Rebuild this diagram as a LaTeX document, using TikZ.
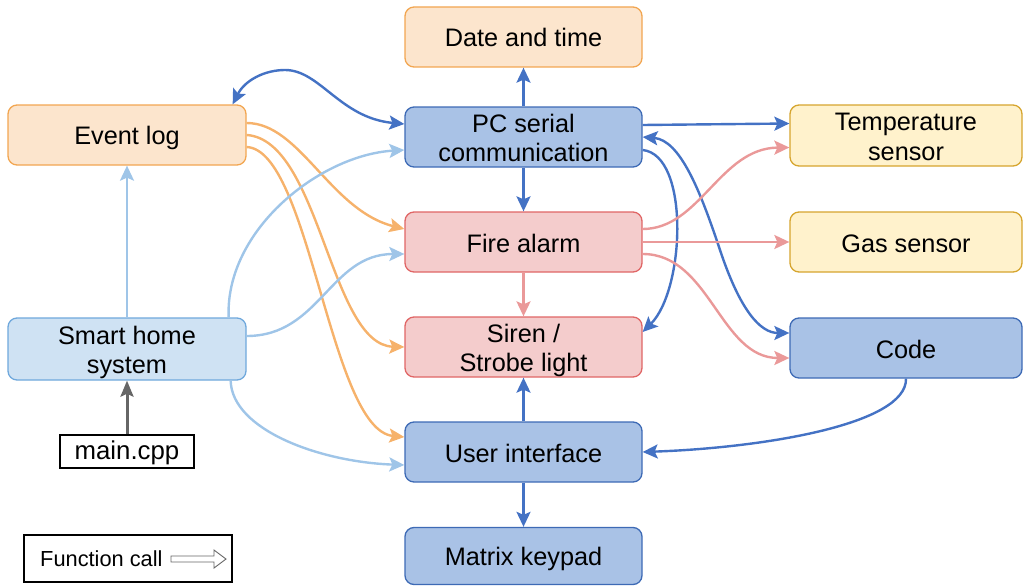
\documentclass[tikz,border=0pt]{standalone}
\usepackage{fontspec}
\setmainfont{Liberation Sans}
\usetikzlibrary{arrows.meta,calc}
\definecolor{orfill}{HTML}{FCE5CD}
\definecolor{ordraw}{HTML}{F2A651}
\definecolor{orline}{HTML}{F6B26B}
\definecolor{dbfill}{HTML}{A9C2E6}
\definecolor{dbdraw}{HTML}{3D6AB5}
\definecolor{dbline}{HTML}{4472C4}
\definecolor{rdfill}{HTML}{F4CCCC}
\definecolor{rddraw}{HTML}{E06666}
\definecolor{rdline}{HTML}{EA9999}
\definecolor{lbfill}{HTML}{CFE2F3}
\definecolor{lbdraw}{HTML}{6FA8DC}
\definecolor{lbline}{HTML}{9FC5E8}
\definecolor{ylfill}{HTML}{FFF2CC}
\definecolor{yldraw}{HTML}{D6A52E}
\definecolor{gyline}{HTML}{666666}
\newcommand\boxfont{\fontsize{25.3}{29.5}\selectfont}
\newcommand\tstrut{\rule[-4pt]{0pt}{28pt}}
\newcommand\twolines[2]{\raisebox{-4pt}[\height][\depth]{\begin{tabular}{@{}c@{}}#1\\#2\end{tabular}}}
\tikzset{
  box/.style={draw, rounded corners=9pt, line width=1.3pt, minimum width=237pt,
    minimum height=60pt, align=center, font=\boxfont, inner sep=0pt},
  one/.style={execute at begin node=\tstrut},
  orbox/.style={box, fill=orfill, draw=ordraw},
  dbbox/.style={box, fill=dbfill, draw=dbdraw},
  rdbox/.style={box, fill=rdfill, draw=rddraw},
  lbbox/.style={box, fill=lbfill, draw=lbdraw},
  ylbox/.style={box, fill=ylfill, draw=yldraw, minimum width=232pt},
  conn/.style={line width=2.4pt, ->},
  orconn/.style={conn, draw=orline},
  dbconn/.style={conn, draw=dbline},
  rdconn/.style={conn, draw=rdline},
  lbconn/.style={conn, draw=lbline},
}
\begin{document}
\begin{tikzpicture}[x=1pt, y=-1pt, >={Stealth[length=15pt,width=14pt,inset=3pt]}]
\useasboundingbox (0,0) rectangle (1023,586);
% nodes
\node[orbox, one] (date) at (523.5,37) {Date and time};
\node[dbbox] (pc) at (523.5,137) {\twolines{PC serial}{communication}};
\node[rdbox, one] (fire) at (523.5,242) {Fire alarm};
\node[rdbox] (siren) at (523.5,347) {\twolines{Siren /}{Strobe light}};
\node[dbbox, one] (ui) at (523.5,452) {User interface};
\node[dbbox, one, minimum height=57pt] (keypad) at (523.5,556) {Matrix keypad};
\node[orbox, one, minimum width=238pt] (event) at (127,135) {Event log};
\node[lbbox, minimum width=238pt, minimum height=62pt] (smart) at (127,349) {\twolines{Smart home}{system}};
\node[draw, line width=1.1pt, fill=white, minimum width=134pt, minimum height=33pt, inner sep=0pt, font=\fontsize{25.8}{29.5}\selectfont] (main) at (127,451.5) {\rule[-5pt]{0pt}{27pt}main.cpp};
\node[ylbox, minimum height=61pt] (temp) at (906,135.5) {\twolines{Temperature}{sensor}};
\node[ylbox, one] (gas) at (906,242) {Gas sensor};
\node[dbbox, one, minimum width=232pt] (code) at (906,348) {Code};
\node[draw, line width=1.1pt, minimum width=208pt, minimum height=47pt, inner sep=0pt] (legend) at (128,558.5) {};
\node[anchor=west, inner sep=0pt, font=\fontsize{21.8}{26}\selectfont] (legtext) at (40,559) {Function call};
% legend glyph (hollow block arrow)
\draw[gyline, line width=0.9pt, fill=white]
  (171,556) -- (214,556) -- (214,550) -- (226,559) -- (214,568) -- (214,562) -- (171,562) -- cycle;
% connectors
\draw[dbconn, <->] ($(event.north east)+(-14,0)$) .. controls (245,80) and (265,70) .. (285,70)
   .. controls (320,70) and (340,118) .. ($(pc.west)+(0,-13)$);
\draw[dbconn] (pc.north) -- (date.south);
\draw[dbconn] (pc.south) -- (fire.north);
\draw[dbconn] ($(pc.east)+(0,-12)$) -- ($(temp.west)+(0,-12)$);
\draw[dbconn, <->] (pc.east) .. controls (680,140) and (700,190) .. (720,250)
   .. controls (740,310) and (760,333) .. ($(code.west)+(0,-15)$);
\draw[dbconn] ($(pc.east)+(0,13)$) .. controls (690,155) and (685,290) .. ($(siren.east)+(0,-15)$);
\draw[rdconn] ($(fire.east)+(0,-13)$) .. controls (700,229) and (720,148) .. ($(temp.west)+(0,12)$);
\draw[rdconn] (fire.east) -- (gas.west);
\draw[rdconn] ($(fire.east)+(0,12)$) .. controls (710,254) and (720,358) .. ($(code.west)+(0,10)$);
\draw[rdconn] (fire.south) -- (siren.north);
\draw[dbconn] (ui.north) -- (siren.south);
\draw[dbconn] (ui.south) -- (keypad.north);
\draw[dbconn] (code.south) .. controls (907,425) and (760,448) .. (ui.east);
\draw[orconn] ($(event.east)+(0,-12)$) .. controls (300,123) and (330,210) .. ($(fire.west)+(0,-13)$);
\draw[orconn] (event.east) .. controls (320,140) and (330,345) .. (siren.west);
\draw[orconn] ($(event.east)+(0,12)$) .. controls (310,150) and (330,430) .. ($(ui.west)+(0,-15)$);
\draw[lbconn] (smart.north) -- (event.south);
\draw[lbconn] ($(smart.north east)+(-18,0)$) .. controls (225,230) and (320,155) .. ($(pc.west)+(0,13)$);
\draw[lbconn] ($(smart.east)+(0,-13)$) .. controls (320,336) and (330,254) .. ($(fire.west)+(0,12)$);
\draw[lbconn] ($(smart.south east)+(-16,0)$) .. controls (232,430) and (320,462) .. ($(ui.west)+(0,13)$);
\draw[line width=3pt, draw=gyline, -{Stealth[length=16pt,width=13pt,inset=3pt]}] (main.north) -- (smart.south);
\end{tikzpicture}
\end{document}
